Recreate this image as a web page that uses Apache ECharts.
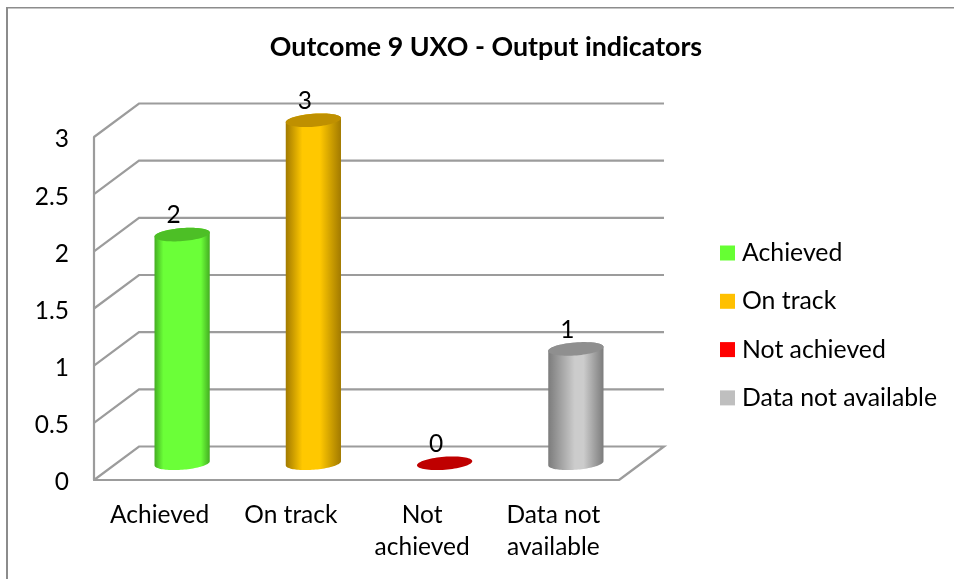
<!DOCTYPE html>
<html><head><meta charset="utf-8">
<style>html,body{margin:0;padding:0;background:#fff}#c{width:954px;height:579px}</style>
<script src="https://cdn.jsdelivr.net/npm/echarts@6/dist/echarts.min.js"></script>
</head><body><div id="c"></div>
<script>
var categories = ['Achieved', 'On track', 'Not\nachieved', 'Data not\navailable'];
var seriesNames = ['Achieved', 'On track', 'Not achieved', 'Data not available'];
var values = [2, 3, 0, 1];
var yTicks = [0, 0.5, 1, 1.5, 2, 2.5, 3];
var legendColors = ['#66FF33', '#FFC000', '#FF0000', '#BFBFBF'];
var topColors = ['#4DBF26', '#BF9000', '#BF0000', '#8F8F8F'];
var edgeColors = ['#44AD22', '#A27A00', '#A00000', '#7C7C7C'];
var midColors = ['#6BFF38', '#FFC800', '#FF0000', '#CCCCCC'];
var midStart = [0.16, 0.3, 0.3, 0.48];
var midEnd = [0.84, 0.62, 0.62, 0.64];

var FONT = 'Lato';
var DEPTH_X = 45, DEPTH_Y = -33.5;      // projection of the 3D floor depth
var A = 27.7, B = 6.5, TILT = -4.5 * Math.PI / 180;
var LINE = '#9C9C9C';

function ell(cx, cy, t) {
  var c = Math.cos(t), s = Math.sin(t), cp = Math.cos(TILT), sp = Math.sin(TILT);
  return [cx + A * c * cp - B * s * sp, cy + A * c * sp + B * s * cp];
}
function arc(cx, cy, t0, t1, n) {
  var out = [];
  for (var i = 0; i <= n; i++) out.push(ell(cx, cy, t0 + (t1 - t0) * i / n));
  return out;
}

function renderBar(idx) {
  return function (params, api) {
    var base = api.coord([api.value(0), 0]);
    var top = api.coord([api.value(0), api.value(1)]);
    var cx = base[0] + DEPTH_X / 2, by = base[1] + DEPTH_Y / 2, ty = top[1] + DEPTH_Y / 2;
    var kids = [];
    if (api.value(1) > 0) {
      var body = arc(cx, by, 0, Math.PI, 48).concat(arc(cx, ty, Math.PI, 2 * Math.PI, 48));
      kids.push({
        type: 'polygon', shape: { points: body },
        style: { fill: { type: 'linear', x: 0, y: 0, x2: 1, y2: 0, colorStops: [
          { offset: 0, color: edgeColors[idx] },
          { offset: midStart[idx], color: midColors[idx] },
          { offset: midEnd[idx], color: midColors[idx] },
          { offset: 1, color: edgeColors[idx] }
        ] } }
      });
    }
    kids.push({ type: 'polygon', shape: { points: arc(cx, ty, 0, 2 * Math.PI, 72) }, style: { fill: topColors[idx] } });
    kids.push({
      type: 'text', x: cx - 8.5, y: ty - 19,
      style: { text: String(api.value(1)), font: '24.5px ' + FONT, fill: '#000', align: 'center', verticalAlign: 'middle' }
    });
    return { type: 'group', children: kids };
  };
}

function renderWalls(params, api) {
  var v = api.value(0);
  var y = api.coord([0, v])[1];
  var x0 = params.coordSys.x, x1 = x0 + params.coordSys.width;
  var pts = [[x0, y], [x0 + DEPTH_X, y + DEPTH_Y], [x1 + DEPTH_X, y + DEPTH_Y]];
  if (v === 0) pts.push([x1, y]);
  return { type: 'polyline', shape: { points: pts }, style: { stroke: LINE, lineWidth: 2.2, fill: null }, silent: true };
}

var series = [{
  type: 'custom', name: 'walls', coordinateSystem: 'cartesian2d', silent: true, z: 1,
  data: yTicks.map(function (v) { return [v]; }),
  encode: { y: 0 }, renderItem: renderWalls, clip: false
}];
seriesNames.forEach(function (n, i) {
  series.push({
    type: 'custom', name: n, coordinateSystem: 'cartesian2d', z: 3, clip: false,
    itemStyle: { color: legendColors[i] },
    data: [[i, values[i]]], encode: { x: 0, y: 1 }, renderItem: renderBar(i)
  });
});

var chart = echarts.init(document.getElementById('c'), null, { renderer: 'canvas' });
chart.setOption({
  animation: false,
  backgroundColor: '#ffffff',
  textStyle: { fontFamily: FONT },
  title: {
    text: 'Outcome 9 UXO - Output indicators', left: 481, top: 42, textAlign: 'center', textVerticalAlign: 'middle',
    textStyle: { fontFamily: FONT, fontSize: 26.8, fontWeight: 'bold', color: '#000' }
  },
  legend: {
    data: seriesNames.map(function (n) { return { name: n, icon: 'rect' }; }),
    orient: 'vertical', left: 720, top: 240, padding: 0, itemWidth: 15, itemHeight: 15, itemGap: 22.3,
    textStyle: { fontFamily: FONT, fontSize: 24.8, lineHeight: 26, color: '#000', padding: [0, 0, 0, 2] },
    selectedMode: false
  },
  grid: { left: 94, top: 137, width: 525, height: 343, containLabel: false },
  xAxis: {
    type: 'category', data: categories, boundaryGap: true,
    axisLine: { show: true, lineStyle: { color: LINE, width: 2.2 } },
    axisTick: { show: false }, splitLine: { show: false },
    axisLabel: { interval: 0, margin: 19, fontFamily: FONT, fontSize: 24.5, color: '#000', lineHeight: 32 }
  },
  yAxis: {
    type: 'value', min: 0, max: 3, interval: 0.5,
    axisLine: { show: true, lineStyle: { color: LINE, width: 2.2 } },
    axisTick: { show: false }, splitLine: { show: false },
    axisLabel: {
      margin: 25, color: '#000',
      formatter: function (v) { return '{t|' + v + '}'; },
      rich: { t: { fontFamily: FONT, fontSize: 24.5, color: '#000', padding: [5, 0, 0, 0] } }
    }
  },
  graphic: [
    { type: 'line', silent: true, shape: { x1: 7, y1: 7, x2: 7, y2: 579 }, style: { stroke: '#8C8C8C', lineWidth: 2 } },
    { type: 'line', silent: true, shape: { x1: 6, y1: 7.7, x2: 954, y2: 7.7 }, style: { stroke: '#8C8C8C', lineWidth: 1.4 } }
  ],
  series: series
});
</script></body></html>
